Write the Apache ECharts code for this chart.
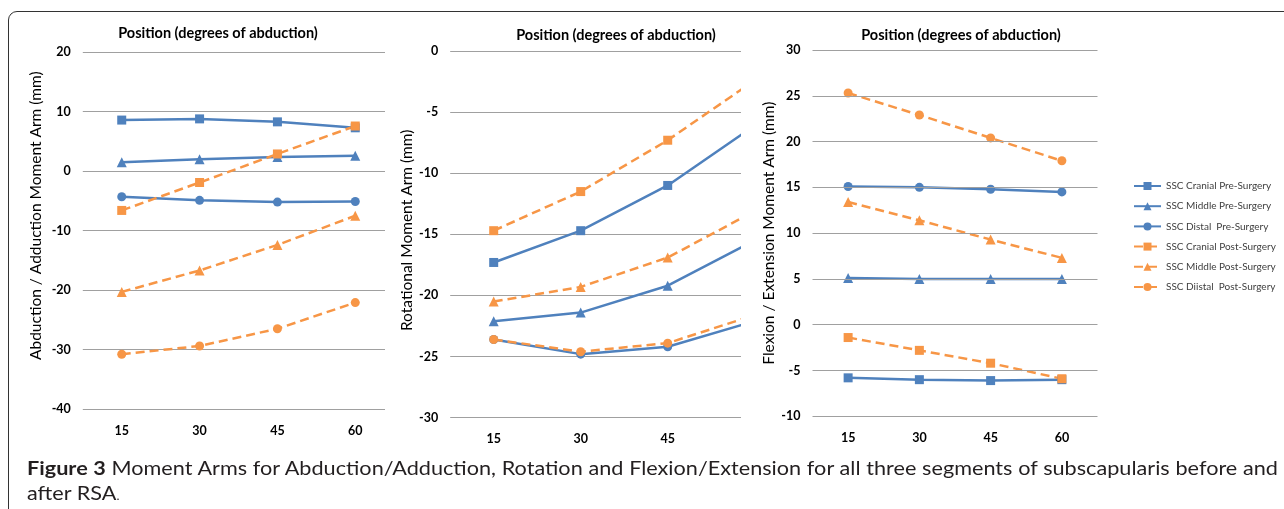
<!DOCTYPE html>
<html>
<head>
<meta charset="utf-8">
<script src="https://cdn.jsdelivr.net/npm/echarts@6/dist/echarts.min.js"></script>
<style>
  html, body { margin:0; padding:0; width:1284px; height:509px; overflow:hidden; background:#fff; }
  #frame { position:absolute; left:8px; top:11px; width:1400px; height:600px; border:1.5px solid #333; border-top-left-radius:9px; box-sizing:border-box; }
  #chart { position:absolute; left:0; top:0; width:1284px; height:509px; }
  .cap { position:absolute; left:27px; font-family:Lato,"Open Sans",sans-serif; font-size:18.5px; line-height:25px; color:#231f20; white-space:nowrap; transform-origin:0 0; }
  #cap1 { top:456px; text-align:justify; text-align-last:justify; }
  #cap2 { top:481px; }
  .cap b { font-weight:bold; }
  .small { font-size:11px; }
</style>
</head>
<body>
<div id="frame"></div>
<div id="chart"></div>
<div id="cap1" class="cap"><b>Figure 3</b> Moment Arms for Abduction/Adduction, Rotation and Flexion/Extension for all three segments of subscapularis before and</div>
<div id="cap2" class="cap">after RSA<span class="small">.</span></div>
<script>
// ---- data ----
const categories = ['15', '30', '45', '60'];
const seriesNames = ['SSC Cranial Pre-Surgery', 'SSC Middle Pre-Surgery', 'SSC Distal  Pre-Surgery',
                     'SSC Cranial Post-Surgery', 'SSC Middle Post-Surgery', 'SSC Diistal  Post-Surgery'];

// Abduction / Adduction
const abdCranialPre  = [8.6, 8.8, 8.3, 7.3];
const abdMiddlePre   = [1.5, 2.0, 2.4, 2.6];
const abdDistalPre   = [-4.3, -4.9, -5.2, -5.1];
const abdCranialPost = [-6.6, -1.9, 2.9, 7.6];
const abdMiddlePost  = [-20.3, -16.7, -12.4, -7.5];
const abdDistalPost  = [-30.8, -29.4, -26.5, -22.1];

// Rotation
const rotCranialPre  = [-17.3, -14.7, -11.0, -6.1];
const rotMiddlePre   = [-22.1, -21.4, -19.2, -15.5];
const rotDistalPre   = [-23.6, -24.8, -24.2, -22.1];
const rotCranialPost = [-14.7, -11.5, -7.3, -2.4];
const rotMiddlePost  = [-20.5, -19.3, -16.9, -13.1];
const rotDistalPost  = [-23.6, -24.6, -23.9, -21.6];

// Flexion / Extension
const flexCranialPre  = [-5.8, -6.0, -6.1, -6.0];
const flexMiddlePre   = [5.1, 5.0, 5.0, 5.0];
const flexDistalPre   = [15.1, 15.0, 14.8, 14.5];
const flexCranialPost = [-1.4, -2.8, -4.2, -5.9];
const flexMiddlePost  = [13.4, 11.4, 9.3, 7.3];
const flexDistalPost  = [25.3, 22.9, 20.4, 17.9];

const xTitle = 'Position (degrees of abduction)';
const yTitles = ['Abduction / Adduction Moment Arm (mm)', 'Rotational Moment Arm (mm)', 'Flexion / Extension Moment Arm (mm)'];

// ---- caption fitting (condense the caption font to the reference width) ----
(function fitCaption() {
  const c1 = document.getElementById('cap1'), c2 = document.getElementById('cap2');
  c1.style.width = 'auto';
  const natural = c1.getBoundingClientRect().width;
  const s = 1248 / natural;
  c1.style.width = (1251 / s) + 'px';
  c1.style.transform = 'scaleX(' + s + ')';
  c2.style.transform = 'scaleX(' + s + ')';
})();

// ---- styling ----
const BLUE = '#4f81bd', ORANGE = '#f79646';
const symbols = ['rect', 'triangle', 'circle', 'rect', 'triangle', 'circle'];
const symSizes = [9, 10, 9, 9, 10, 9];
const FONT = 'Lato, "Open Sans", sans-serif';

const panels = [
  [abdCranialPre, abdMiddlePre, abdDistalPre, abdCranialPost, abdMiddlePost, abdDistalPost],
  [rotCranialPre, rotMiddlePre, rotDistalPre, rotCranialPost, rotMiddlePost, rotDistalPost],
  [flexCranialPre, flexMiddlePre, flexDistalPre, flexCranialPost, flexMiddlePost, flexDistalPost]
];

const grids = [
  { left: 82.8, top: 52.3, width: 311.4, height: 356.7 },
  { left: 450.2, top: 51, width: 348, height: 366.7 },
  { left: 812.5, top: 50, width: 285, height: 366.3 }
];
const yRanges = [
  { min: -40, max: 20, interval: 10 },
  { min: -30, max: 0, interval: 5 },
  { min: -10, max: 30, interval: 5 }
];
const nameGaps = [39, 34, 32];
const namePads = [[0, 0, 0, 30], [0, 0, 0, 8], [0, 0, 0, 0]];

const xAxes = grids.map((g, i) => ({
  type: 'category', gridIndex: i, data: categories, boundaryGap: true,
  axisLine: { show: false }, axisTick: { show: false },
  axisLabel: { margin: 15, fontFamily: FONT, fontWeight: 'bold', fontSize: 12.5, color: '#000' }
}));
const yAxes = grids.map((g, i) => ({
  type: 'value', gridIndex: i, min: yRanges[i].min, max: yRanges[i].max, interval: yRanges[i].interval,
  z: i === 2 ? 50 : 0,
  axisLine: { show: false }, axisTick: { show: false },
  splitLine: { lineStyle: { color: '#a0a0a0', width: 1 } },
  axisLabel: { margin: 12, fontFamily: FONT, fontWeight: 'bold', fontSize: 12.5, color: '#000' },
  name: yTitles[i], nameLocation: 'middle', nameRotate: 90, nameGap: nameGaps[i],
  nameTextStyle: { fontFamily: FONT, fontSize: 15.5, color: '#000', padding: namePads[i] }
}));

const series = [];
panels.forEach((arrs, p) => {
  arrs.forEach((data, k) => {
    const post = k >= 3;
    const c = post ? ORANGE : BLUE;
    series.push({
      name: seriesNames[k], type: 'line', xAxisIndex: p, yAxisIndex: p, data: data,
      symbol: symbols[k], symbolSize: symSizes[k], showSymbol: true,
      itemStyle: { color: c },
      lineStyle: { color: c, width: 2.5, type: post ? [9, 5] : 'solid' },
      emphasis: { disabled: true }, animation: false
    });
  });
});

const titleY = [33, 35, 35];
const titleX = [218, 616, 961];
const graphics = titleX.map((x, i) => ({
  type: 'text', x: x, y: titleY[i], z: 100,
  style: { text: xTitle, font: 'bold 14.5px ' + FONT, fill: '#000', align: 'center', verticalAlign: 'middle' }
}));
// clipping of the overlapped plot areas
graphics.push({ type: 'rect', z: 10, shape: { x: 385, y: 40, width: 11, height: 380 }, style: { fill: '#fff' } });
graphics.push({ type: 'rect', z: 10, shape: { x: 741, y: 40, width: 62, height: 414 }, style: { fill: '#fff' } });

const chart = echarts.init(document.getElementById('chart'), null, { renderer: 'canvas' });
chart.setOption({
  animation: false,
  grid: grids,
  xAxis: xAxes,
  yAxis: yAxes,
  series: series,
  graphic: { elements: graphics },
  legend: {
    data: seriesNames, orient: 'vertical', left: 1133, top: 181, padding: 0,
    itemWidth: 27, itemHeight: 10, itemGap: 10.2,
    textStyle: { fontFamily: FONT, fontSize: 10, lineHeight: 10, color: '#404040' }
  }
});
</script>
</body>
</html>
